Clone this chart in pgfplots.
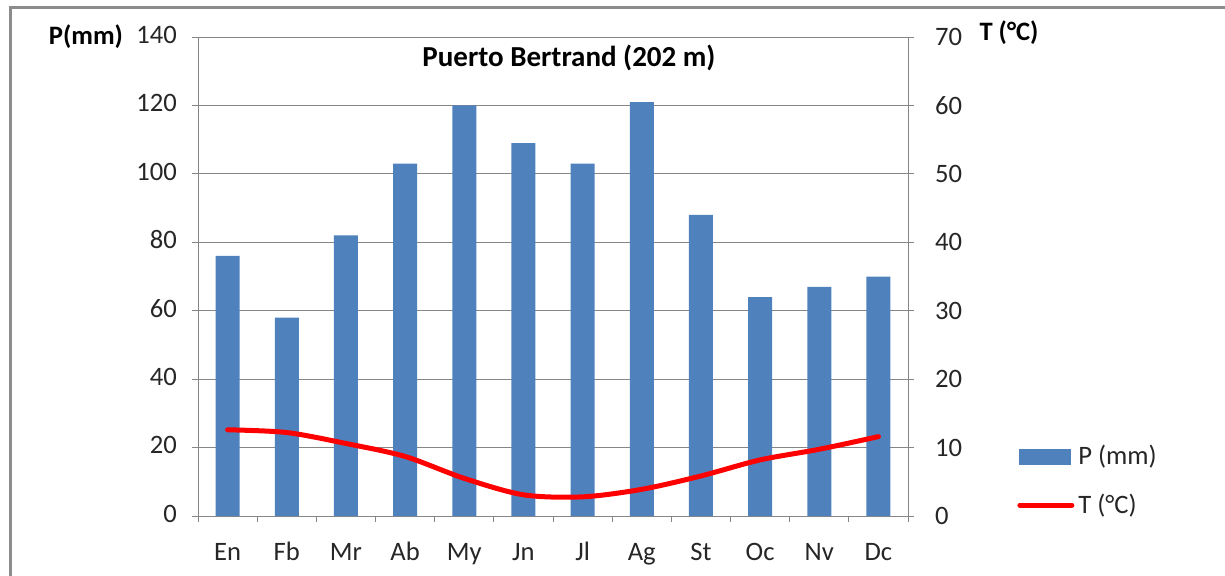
\documentclass[border=0pt]{standalone}
\usepackage{fontspec}
\setmainfont{Carlito}
\usepackage{pgfplots}
\pgfplotsset{compat=1.18}
\definecolor{barblue}{HTML}{4F81BD}
\definecolor{axgray}{HTML}{868686}
\definecolor{txt}{HTML}{262626}
\begin{document}
\begin{tikzpicture}
\useasboundingbox (0,0) rectangle (612.5pt,287.5pt);
\draw[color=gray!90, line width=1.5pt] (5pt,-1pt) -- (5pt,284pt) -- (613pt,284pt);
\pgfplotsset{
  common/.style={
    at={(99pt,29.5pt)}, anchor=south west, scale only axis,
    width=355pt, height=239.5pt,
    xmin=-0.5, xmax=11.5,
    tick align=outside, major tick length=3pt, minor tick length=3pt,
    tick label style={font=\fontsize{13.3}{16}\selectfont, text=txt},
    axis line style={axgray},
    every tick/.style={axgray},
    /pgf/number format/assume math mode=true,
  }
}
\begin{axis}[common,
  ymin=0, ymax=140, ytick={0,20,...,140},
  xtick={0,...,11},
  xticklabels={En,Fb,Mr,Ab,My,Jn,Jl,Ag,St,Oc,Nv,Dc},
  typeset ticklabels with strut,
  minor xtick={-0.5,0.5,...,11.5},
  every major x tick/.style={draw=none},
  xtick pos=bottom, ytick pos=left,
  ymajorgrids, grid style={axgray, line width=0.5pt},
  xticklabel shift=4.5pt,
  yticklabel shift=4pt,
]
\addplot[ybar, bar width=12pt, fill=barblue, draw=none] coordinates {
(0,76) (1,58) (2,82) (3,103) (4,120) (5,109) (6,103) (7,121) (8,88) (9,64) (10,67) (11,70)};
\end{axis}
\begin{axis}[common,
  ymin=0, ymax=70, ytick={0,10,...,70},
  axis x line=none, axis y line*=right,
  yticklabel shift=7pt,
  legend style={at={(1.145,0.165)}, anchor=north west, draw=none, fill=none,
    font=\fontsize{13.3}{16}\selectfont, text=txt, row sep=9pt},
  legend cell align=left,
]
\addlegendimage{legend image code/.code={\fill[barblue] (0pt,-3.75pt) rectangle (25.5pt,3.75pt);}}
\addlegendentry{P (mm)}
\addplot[red, line width=2.5pt, smooth, line cap=round,
  legend image code/.code={\draw[red, line width=2.5pt, line cap=round] (0pt,0pt) -- (26pt,0pt);}] coordinates {
(0,12.6) (1,12.2) (2,10.6) (3,8.7) (4,5.5) (5,3.1) (6,2.8) (7,3.9) (8,5.85) (9,8.2) (10,9.75) (11,11.6)};
\addlegendentry{T (°C)}
\end{axis}
\node[font=\bfseries\fontsize{13.3}{16}\selectfont, text=black] at (43pt,269pt) {P(mm)};
\node[font=\bfseries\fontsize{13.3}{16}\selectfont, text=black] at (504.5pt,271pt) {T (°C)};
\node[font=\bfseries\fontsize{14.5}{17}\selectfont, text=black] at (284.5pt,258.5pt) {Puerto Bertrand (202 m)};
\end{tikzpicture}
\end{document}
